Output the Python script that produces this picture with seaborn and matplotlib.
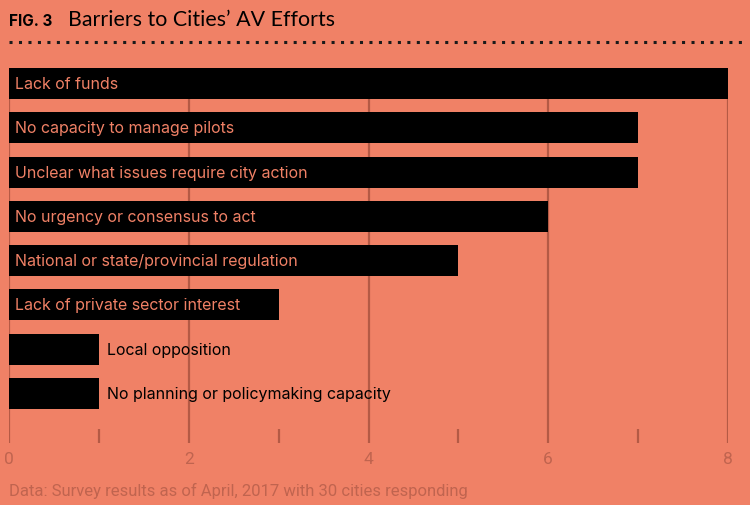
import matplotlib
matplotlib.use("Agg")
import matplotlib.pyplot as plt
from matplotlib.lines import Line2D
import seaborn as sns
import pandas as pd

categories = ["Lack of funds", "No capacity to manage pilots",
              "Unclear what issues require city action",
              "No urgency or consensus to act",
              "National or state/provincial regulation",
              "Lack of private sector interest", "Local opposition",
              "No planning or policymaking capacity"]
values = [8, 7, 7, 6, 5, 3, 1, 1]
major_ticks = [0, 2, 4, 6, 8]
minor_ticks = [1, 3, 5, 7]

BG = "#F08166"
GRID = "#B45A45"
TICKC = "#C0644F"

sns.set_theme(style="white")
plt.rcParams["font.family"] = ["Inter", "DejaVu Sans"]

df = pd.DataFrame({"cat": categories, "val": values})

fig = plt.figure(figsize=(7.5, 5.06), dpi=100, facecolor=BG)
ax = fig.add_axes([9/750, (506-444)/506, 719/750, (444-69)/506])
ax.set_facecolor(BG)

sns.barplot(data=df, x="val", y="cat", orient="h", color="black",
            saturation=1, width=0.7, linewidth=0, ax=ax, zorder=3)
ax.set_xlim(0, 8)
ax.set_ylim(7 + 1.12, -0.35)
ax.set_xlabel("")
ax.set_ylabel("")
ax.set_yticks([])
for s in ax.spines.values():
    s.set_visible(False)

ax.set_xticks(major_ticks)
ax.set_xticks(minor_ticks, minor=True)
ax.tick_params(axis="x", which="major", direction="in", length=0, pad=6,
               labelcolor=TICKC, labelsize=12.5)
ax.tick_params(axis="x", which="minor", direction="in", length=10, width=1.6,
               color=GRID, bottom=True)
for lab in ax.get_xticklabels():
    lab.set_family(["Roboto", "DejaVu Sans"])
for x in major_ticks:
    ax.axvline(x, color=GRID, lw=1.6, zorder=1)

for i, (c, v) in enumerate(zip(categories, values)):
    if v >= 3:
        ax.text(0.07, i, c, color=BG, va="center", ha="left", fontsize=11.5, zorder=4)
    else:
        ax.text(v + 0.09, i, c, color="black", va="center", ha="left", fontsize=11.5, zorder=4)

fig.text(9/750, 1 - 21/506, "FIG. 3", fontsize=11, fontweight="bold",
         color="black", va="center", ha="left")
fig.text(68/750, 1 - 20/506, "Barriers to Cities\u2019 AV Efforts", fontsize=15.4,
         color="black", va="center", ha="left", family=["Lato", "DejaVu Sans"])
fig.add_artist(Line2D([9/750, 742/750], [1 - 43/506, 1 - 43/506],
                      transform=fig.transFigure, color="#1a1a1a", lw=2.2,
                      linestyle=(0, (1, 2.1))))
fig.text(9/750, 1 - 491/506, "Data: Survey results as of April, 2017 with 30 cities responding",
         fontsize=12, color=TICKC, va="center", ha="left",
         family=["Roboto", "DejaVu Sans"])

fig.savefig("out.png", dpi=100, facecolor=BG)
